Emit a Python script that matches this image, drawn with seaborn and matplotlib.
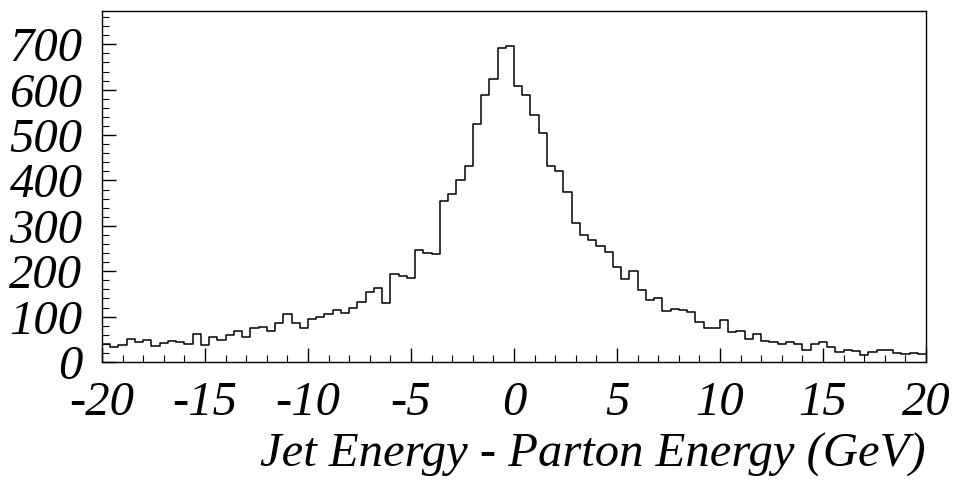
import numpy as np
import pandas as pd
import matplotlib
matplotlib.use("Agg")
import matplotlib.pyplot as plt
import seaborn as sns
from matplotlib.ticker import MultipleLocator

# ---- data ----
x_min, x_max, n_bins = -20, 20, 100
counts = [
    39, 32, 37, 51, 43, 48, 36, 42, 47, 45,
    40, 62, 37, 56, 49, 60, 69, 54, 76, 78,
    68, 86, 106, 86, 76, 94, 99, 106, 115, 109,
    119, 132, 155, 164, 131, 193, 189, 186, 246, 241,
    238, 354, 371, 401, 432, 524, 588, 623, 692, 696,
    609, 588, 544, 505, 432, 421, 375, 307, 279, 269,
    255, 243, 210, 182, 200, 158, 136, 140, 113, 116,
    114, 110, 89, 76, 75, 92, 65, 69, 51, 62,
    47, 45, 40, 43, 40, 26, 39, 43, 32, 23,
    26, 25, 15, 23, 26, 26, 19, 18, 20, 18,
]
x_ticks = [-20, -15, -10, -5, 0, 5, 10, 15, 20]
x_tick_labels = ["-20", "-15", "-10", "-5", "0", "5", "10", "15", "20"]
y_ticks = [0, 100, 200, 300, 400, 500, 600, 700]
y_tick_labels = ["0", "100", "200", "300", "400", "500", "600", "700"]
x_label = "Jet Energy - Parton Energy (GeV)"
y_max = 774

edges = np.linspace(x_min, x_max, n_bins + 1)
centers = (edges[:-1] + edges[1:]) / 2
df = pd.DataFrame({"dE": centers, "n": counts})

sns.set_style("ticks")
plt.rcParams["font.family"] = ["Liberation Serif", "DejaVu Serif"]
plt.rcParams["font.style"] = "italic"
for key in ["text.color", "axes.labelcolor", "xtick.color", "ytick.color",
            "axes.edgecolor"]:
    plt.rcParams[key] = "black"

W, H = 956, 486
fig = plt.figure(figsize=(W / 100, H / 100), dpi=100)
ax = fig.add_axes([102 / W, 1 - 362 / H, (926 - 102) / W, (362 - 10.7) / H])

sns.histplot(data=df, x="dE", weights="n", bins=n_bins, binrange=(x_min, x_max),
             element="step", fill=False, color="black", linewidth=1.1, ax=ax)

ax.set_xlim(x_min, x_max)
ax.set_ylim(0, y_max)
ax.set_xticks(x_ticks)
ax.set_xticklabels(x_tick_labels)
ax.set_yticks(y_ticks)
ax.set_yticklabels(y_tick_labels)
ax.xaxis.set_minor_locator(MultipleLocator(1))
ax.yaxis.set_minor_locator(MultipleLocator(20))
ax.tick_params(which="major", direction="in", length=10, width=1,
               labelsize=35, top=False, right=False, color="black",
               labelcolor="black")
ax.tick_params(which="minor", direction="in", length=5, width=0.8,
               top=False, right=False, color="black")
ax.tick_params(axis="x", which="major", pad=14)
ax.tick_params(axis="y", which="major", pad=14)
ax.set_xlabel(x_label, loc="right", fontsize=35, labelpad=5, color="black")
ax.set_ylabel("")
for s in ax.spines.values():
    s.set_linewidth(1.0)
    s.set_color("black")

fig.savefig("out.png", dpi=100)
